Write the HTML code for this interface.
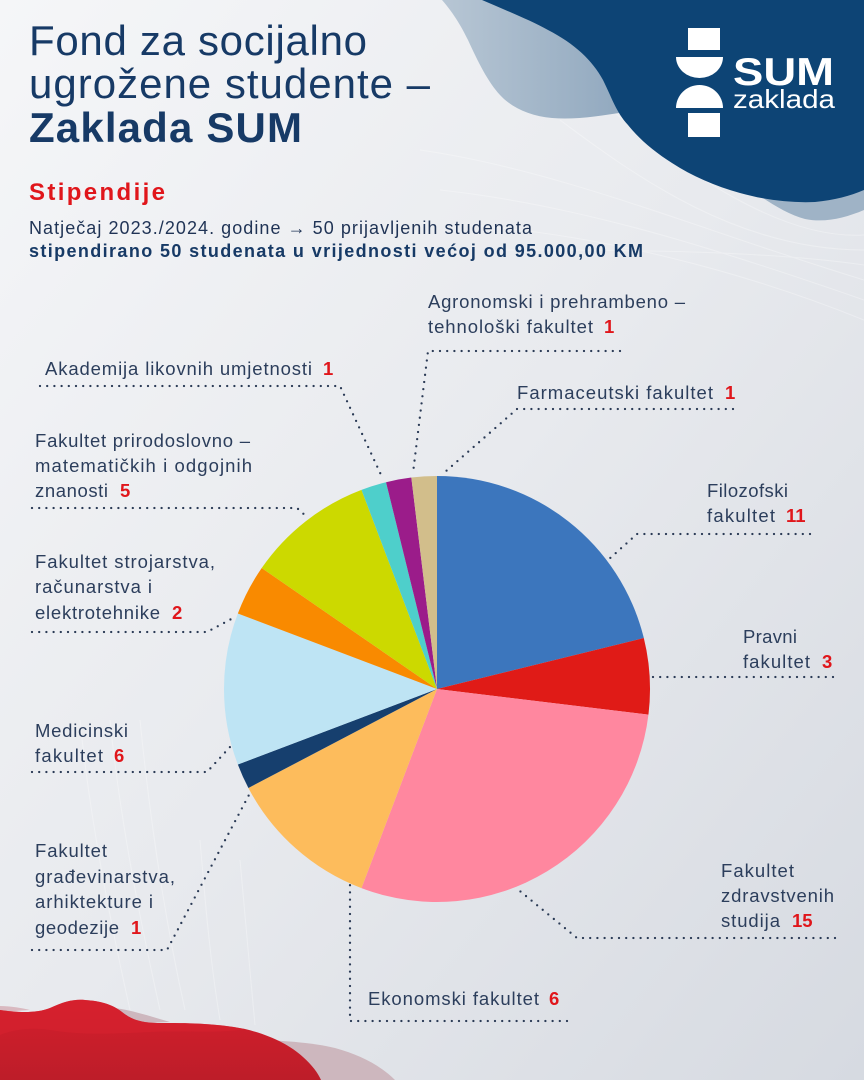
<!DOCTYPE html>
<html>
<head>
<meta charset="utf-8">
<style>
html,body{margin:0;padding:0;}
body{width:864px;height:1080px;overflow:hidden;}
svg{display:block;}
text{font-family:"Liberation Sans","DejaVu Sans",sans-serif;}
.lb{font-size:18.5px;fill:#2C3E5C;}
.nm{font-size:18.5px;font-weight:bold;fill:#E0161B;}
.dl{fill:none;stroke:#2A3A55;stroke-width:2.3;stroke-linecap:round;stroke-dasharray:0 7.2;}
</style>
</head>
<body>
<svg width="864" height="1080" viewBox="0 0 864 1080" xmlns="http://www.w3.org/2000/svg">
<defs>
<linearGradient id="bg" x1="0" y1="0" x2="1" y2="1">
<stop offset="0" stop-color="#F5F6F8"/>
<stop offset="0.5" stop-color="#E8EAEE"/>
<stop offset="1" stop-color="#D6DAE1"/>
</linearGradient>
<linearGradient id="steel" x1="0" y1="0" x2="1" y2="0">
<stop offset="0" stop-color="#B7C6D4"/>
<stop offset="1" stop-color="#8EA6BD"/>
</linearGradient>
<linearGradient id="red" x1="0" y1="0" x2="0" y2="1">
<stop offset="0" stop-color="#D41F2C"/>
<stop offset="1" stop-color="#BD1D29"/>
</linearGradient>
</defs>
<rect width="864" height="1080" fill="url(#bg)"/>

<!-- faint grid lines -->
<g fill="none" stroke="#FFFFFF" stroke-width="1" opacity="0.3">
<path d="M420,150 C560,170 700,230 864,280"/>
<path d="M440,190 C580,205 720,250 864,300"/>
<path d="M470,225 C600,235 740,270 864,320"/>
<path d="M560,120 C640,180 740,250 864,250"/>
<path d="M600,100 C680,170 780,240 864,235"/>
<path d="M500,250 C620,250 760,250 864,265"/>
<path d="M80,720 C90,820 110,920 130,1010"/>
<path d="M110,720 C120,820 140,920 160,1010"/>
<path d="M140,720 C150,820 165,920 185,1010"/>
<path d="M200,840 C205,900 210,960 220,1020"/>
<path d="M240,860 C245,920 250,970 255,1025"/>
</g>

<!-- top right blobs -->
<path d="M442,0 C455,15 462,28 468,40 C478,62 488,82 500,95 C512,108 530,116 552,118 C575,120 600,116 625,112 L640,112 L640,0 Z" fill="url(#steel)"/>
<path d="M760,196 C775,206 790,215 805,219 C825,223 845,218 864,210 L864,180 Z" fill="#9FB3C6"/>
<path d="M482,0 C505,10 530,20 548,30 C575,44 592,60 603,80 C612,98 616,112 628,125 C640,140 655,152 672,163 C692,176 715,186 740,193 C765,200 790,203 815,202 C835,200 850,196 864,190 L864,0 Z" fill="#0D4475"/>

<!-- logo -->
<g fill="#FFFFFF">
<rect x="688" y="28" width="32" height="22"/>
<path d="M676,57 L723,57 A23.5,21 0 0 1 676,57 Z"/>
<path d="M676,108 A23.5,23 0 0 1 723,108 Z"/>
<rect x="688" y="113" width="32" height="24"/>
<text x="733" y="85" font-size="39" font-weight="bold" textLength="101" lengthAdjust="spacingAndGlyphs">SUM</text>
<text x="733" y="108" font-size="26" textLength="102" lengthAdjust="spacingAndGlyphs">zaklada</text>
</g>

<!-- bottom left blobs -->
<path d="M250,1040 C275,1040 310,1042 335,1048 C360,1055 380,1065 395,1080 L250,1080 Z" fill="#CDB7BE"/>
<path d="M115,1008 C130,1010 150,1016 170,1022 L120,1024 Z" fill="#CDB7BE"/>
<path d="M0,1006 C10,1006 22,1008 30,1010 L0,1012 Z" fill="#D9B9C0"/>
<path d="M0,1010 C15,1012 35,1014 50,1008 C65,1001 75,999 85,1000 C100,1001 112,1004 122,1012 C132,1020 142,1023 160,1023 C185,1023 215,1023 245,1029 C270,1035 290,1045 303,1057 C312,1065 318,1073 321,1080 L0,1080 Z" fill="url(#red)"/>
<path d="M0,1010 C15,1012 35,1014 50,1008 C65,1001 75,999 85,1000 C100,1001 112,1004 122,1012 C132,1020 142,1023 160,1023 C185,1023 215,1023 245,1029 C220,1034 180,1030 150,1032 C110,1034 80,1035 50,1030 C30,1027 12,1030 0,1035 Z" fill="#D7212F" opacity="0.6"/>

<!-- title -->
<g fill="#173A66">
<text x="29" y="55" font-size="42" textLength="338">Fond za socijalno</text>
<text x="29" y="98" font-size="42" textLength="401">ugrožene studente –</text>
<text x="29" y="142" font-size="42" font-weight="bold" textLength="273">Zaklada SUM</text>
</g>
<text x="29" y="200" font-size="24" font-weight="bold" fill="#E0161B" textLength="136">Stipendije</text>
<text x="29" y="234" font-size="18" fill="#1F3355" textLength="503">Natječaj 2023./2024. godine → 50 prijavljenih studenata</text>
<text x="29" y="257" font-size="18" font-weight="bold" fill="#173A66" textLength="614">stipendirano 50 studenata u vrijednosti većoj od 95.000,00 KM</text>

<!-- pie -->
<g>
<path d="M437,689 L437,476 A213,213 0 0 1 643.81,638.03 Z" fill="#3C76BD"/>
<path d="M437,689 L643.81,638.03 A213,213 0 0 1 648.45,714.68 Z" fill="#E01B17"/>
<path d="M437,689 L648.45,714.68 A213,213 0 0 1 361.47,888.16 Z" fill="#FF879F"/>
<path d="M437,689 L361.47,888.16 A213,213 0 0 1 248.40,787.99 Z" fill="#FDBC5C"/>
<path d="M437,689 L248.40,787.99 A213,213 0 0 1 237.84,764.53 Z" fill="#163F6E"/>
<path d="M437,689 L237.84,764.53 A213,213 0 0 1 237.84,613.47 Z" fill="#BEE4F4"/>
<path d="M437,689 L237.84,613.47 A213,213 0 0 1 261.71,568.0 Z" fill="#F98A00"/>
<path d="M437,689 L261.71,568.0 A213,213 0 0 1 361.47,489.84 Z" fill="#CCD900"/>
<path d="M437,689 L361.47,489.84 A213,213 0 0 1 386.03,482.19 Z" fill="#4ECFCB"/>
<path d="M437,689 L386.03,482.19 A213,213 0 0 1 411.32,477.55 Z" fill="#9B1C8A"/>
<path d="M437,689 L411.32,477.55 A213,213 0 0 1 437,476 Z" fill="#D2BE8B"/>
</g>

<!-- dotted leader lines -->
<g class="dl">
<polyline class="dl" points="40,386 340,386 382,477"/>
<polyline class="dl" points="32,508 297,508 308,518"/>
<polyline class="dl" points="32,632 207,632 235,617"/>
<polyline class="dl" points="620,351 428,351 413,473"/>
<polyline class="dl" points="733,409 517,409 445,472"/>
<polyline class="dl" points="810,534 637,534 608,560"/>
<polyline class="dl" points="833,677 652,677"/>
<polyline class="dl" points="835,938 577,938 515,887"/>
<polyline class="dl" points="567,1021 350,1021 350,882"/>
<polyline class="dl" points="32,950 167,950 250,793"/>
<polyline class="dl" points="32,772 207,772 230,747"/>
</g>

<!-- labels -->
<text class="lb" x="45" y="375" textLength="267">Akademija likovnih umjetnosti</text>
<text class="nm" x="323" y="375">1</text>

<text class="lb" x="35" y="447" textLength="215">Fakultet prirodoslovno –</text>
<text class="lb" x="35" y="472" textLength="217">matematičkih i odgojnih</text>
<text class="lb" x="35" y="497" textLength="73">znanosti</text>
<text class="nm" x="120" y="497">5</text>

<text class="lb" x="35" y="568" textLength="180">Fakultet strojarstva,</text>
<text class="lb" x="35" y="593" textLength="117">računarstva i</text>
<text class="lb" x="35" y="619" textLength="125">elektrotehnike</text>
<text class="nm" x="172" y="619">2</text>

<text class="lb" x="428" y="308" textLength="257">Agronomski i prehrambeno –</text>
<text class="lb" x="428" y="333" textLength="165">tehnološki fakultet</text>
<text class="nm" x="604" y="333">1</text>

<text class="lb" x="517" y="399" textLength="196">Farmaceutski fakultet</text>
<text class="nm" x="725" y="399">1</text>

<text class="lb" x="707" y="497" textLength="81">Filozofski</text>
<text class="lb" x="707" y="522" textLength="68">fakultet</text>
<text class="nm" x="786" y="522">11</text>

<text class="lb" x="743" y="643" textLength="54">Pravni</text>
<text class="lb" x="743" y="668" textLength="67">fakultet</text>
<text class="nm" x="822" y="668">3</text>

<text class="lb" x="35" y="737" textLength="93">Medicinski</text>
<text class="lb" x="35" y="762" textLength="68">fakultet</text>
<text class="nm" x="114" y="762">6</text>

<text class="lb" x="35" y="857" textLength="72">Fakultet</text>
<text class="lb" x="35" y="883" textLength="140">građevinarstva,</text>
<text class="lb" x="35" y="908" textLength="118">arhiktekture i</text>
<text class="lb" x="35" y="934" textLength="84">geodezije</text>
<text class="nm" x="131" y="934">1</text>

<text class="lb" x="721" y="877" textLength="73">Fakultet</text>
<text class="lb" x="721" y="902" textLength="113">zdravstvenih</text>
<text class="lb" x="721" y="927" textLength="59">studija</text>
<text class="nm" x="792" y="927">15</text>

<text class="lb" x="368" y="1005" textLength="171">Ekonomski fakultet</text>
<text class="nm" x="549" y="1005">6</text>
</svg>
</body>
</html>
